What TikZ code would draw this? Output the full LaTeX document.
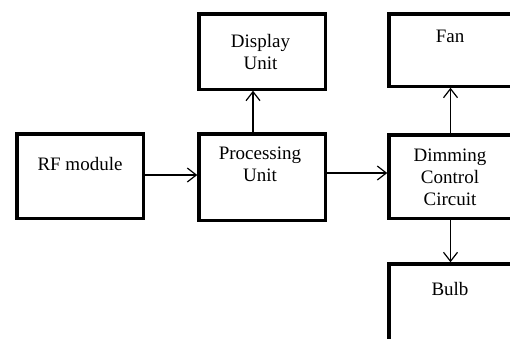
\documentclass[tikz,border=0pt]{standalone}
\usepackage{fontspec}
\setmainfont{Liberation Serif}
\newfontfamily\blockfont{Liberation Serif}
\usetikzlibrary{positioning, arrows.meta}

\begin{document}
\begin{tikzpicture}[x=1pt, y=-1pt,
    block/.style={draw, line width=3.5pt, inner sep=0pt, outer sep=0pt},
    caption/.style={font=\blockfont\fontsize{19}{22}\selectfont, align=center, anchor=north, inner sep=0pt},
    link/.style={line width=1.2pt, shorten >=1.5pt,
      -{Straight Barb[length=9pt, width=14pt, line width=1.2pt]}}]
   \useasboundingbox (0,0) rectangle (510,338);
   \clip (0,0) rectangle (510,338);

   % boxes
   \node[block, minimum width=126.5pt, minimum height=84.5pt] (rf)   at (80,176)    {};
   \node[block, minimum width=126.5pt, minimum height=86.5pt] (proc) at (262,177)   {};
   \node[block, minimum width=126.5pt, minimum height=75.5pt] (disp) at (262,51.5)  {};
   \node[block, minimum width=123.5pt, minimum height=83.5pt] (dim)  at (450.5,176.5) {};
   \node[block, minimum width=123.5pt, minimum height=72.5pt] (fan)  at (450.5,50)  {};
   \node[block, minimum width=123.5pt, minimum height=84.5pt] (bulb) at (450.5,306) {};

   % texts
   \node[caption] at (80,157)  {RF module};
   \node[caption] at (260,147) {Processing\\Unit};
   \node[caption] at (260.5,34) {Display\\Unit};
   \node[caption] at (450,149) {Dimming\\Control\\Circuit};
   \node[caption] at (450,30)  {Fan};
   \node[caption] at (450,282) {Bulb};

   % signal flow
   \draw[link] ([yshift=1pt]rf.east) -- ([yshift=1pt]rf.east -| proc.west);
   \draw[link] ([xshift=-9pt]proc.north) -- ([xshift=-9pt]disp.south);
   \draw[link] ([yshift=4pt]proc.east) -- ([yshift=4pt]proc.east -| dim.west);
   \draw[link] (dim.north) -- (fan.south);
   \draw[link] (dim.south) -- (bulb.north);
\end{tikzpicture}
\end{document}
